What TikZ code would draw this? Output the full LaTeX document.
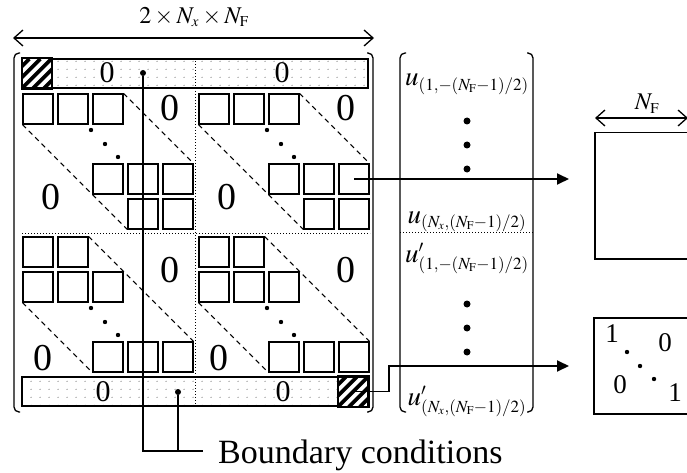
\documentclass[tikz,border=0pt]{standalone}
\usepackage{mathptmx}
\usepackage{fontspec}
\setmainfont{Liberation Serif}
\usetikzlibrary{arrows.meta, patterns.meta, positioning, calc}
\DeclareMathSizes{27}{27}{17}{12}
\DeclareMathSizes{24}{24}{15}{11}

\tikzdeclarepattern{
  name=bcdots,
  type=uncolored,
  bounding box={(0pt,0pt) and (9pt,8pt)},
  tile size={(9pt,8pt)},
  code={\fill (4.5pt,4pt) circle (0.65pt);}
}

\begin{document}
\begin{tikzpicture}[x=1pt, y=-1pt,
    cell/.style={draw, line width=1.6pt, minimum size=29.5pt, inner sep=0pt},
    bar/.style={draw, line width=1.5pt, minimum width=346pt, minimum height=29pt, inner sep=0pt, pattern=bcdots, pattern color=black!60},
    hatch/.style={draw, fill=white, line width=1.5pt, minimum size=29.5pt, inner sep=0pt},
    zbig/.style={font=\fontsize{38}{38}\selectfont, inner sep=0pt},
    zbar/.style={font=\fontsize{30}{30}\selectfont, inner sep=0pt},
    zid/.style={font=\fontsize{27}{27}\selectfont, inner sep=0pt},
    vlab/.style={font=\fontsize{27}{27}\selectfont, inner sep=0pt, anchor=base},
    dimlabel/.style={font=\fontsize{24}{24}\selectfont, inner sep=0pt},
    pnt/.style={circle, fill, inner sep=0pt, minimum size=6pt},
    conn/.style={line width=1.8pt, -{Triangle[length=12pt, width=11pt]}},
    dsh/.style={line width=1.1pt, dash pattern=on 5pt off 4pt},
    brk/.style={line width=1.3pt, rounded corners=5pt},
    dimarrow/.style={line width=1.3pt, {Straight Barb[length=9pt, width=16pt]}-{Straight Barb[length=9pt, width=16pt]}},
    box/.style={draw, line width=1.5pt, minimum width=130pt, inner sep=0pt, anchor=north west}]
  \clip (0,0) rectangle (687,473);

  \coordinate (dimL) at (13,38);
  \coordinate (dimR) at (374,38);
  \draw[dimarrow] (dimL) -- (dimR);
  \node[dimlabel] (dimtxt) at (194,17) {$2\times N_x\times N_\mathrm{F}$};

  \draw[brk] (20,53) -- (14,53) -- (14,412) -- (20,412);
  \draw[brk] (367,53) -- (373,53) -- (373,412) -- (367,412);

  \node[bar] (topbar) at (195,73.5) {};
  \node[bar] (botbar) at (195,391.5) {};
  \node[hatch, anchor=west] (hatA) at (topbar.west) {};
  \node[hatch, anchor=east] (hatB) at (botbar.east) {};
  \foreach \h in {hatA, hatB} {
    \begin{scope}
      \clip (\h.south west) rectangle (\h.north east);
      \foreach \s in {-44,-33,...,44}
        \draw[line width=3.8pt] ($(\h.south west)+(\s,0)$) -- ++(30,-30);
    \end{scope}
    \draw[line width=1.5pt] (\h.south west) rectangle (\h.north east);
  }
  \node[zbar] (za) at (107,73) {0};
  \node[zbar] (zb) at (282,73) {0};
  \node[zbar] (zc) at (103,392) {0};
  \node[zbar] (zd) at (283,392) {0};

  \foreach \ox/\bn in {38/a, 214/b} {
    \foreach \i/\j [count=\k] in {0/0,1/0,2/0,2/2,3/2,4/2,3/3,4/3}
      \node[cell] (\bn\k) at (\ox+35*\i, 109+35*\j) {};
    \draw[dsh] (\bn3.north east) -- (\bn6.north east);
    \draw[dsh] (\bn1.south west) -- (\bn7.south west);
    \foreach \dx/\dy in {53/21, 67/35, 80/48}
      \fill (\ox+\dx, 109+\dy) circle (2.2pt);
    \node[zbig] (\bn z1) at (\ox+132, 108) {0};
    \node[zbig] (\bn z2) at (\ox+13, 197) {0};
  }
  \foreach \ox/\bn in {38/c, 214/d} {
    \foreach \i/\j [count=\k] in {0/-1,1/-1,0/0,1/0,2/0,2/2,3/2,4/2}
      \node[cell] (\bn\k) at (\ox+35*\i, 287+35*\j) {};
    \draw[dsh] (\bn2.north east) -- (\bn8.north east);
    \draw[dsh] (\bn3.south west) -- (\bn6.south west);
    \foreach \dx/\dy in {53/21, 67/35, 80/48}
      \fill (\ox+\dx, 287+\dy) circle (2.2pt);
    \node[zbig] (\bn z1) at (\ox+132, 270) {0};
    \node[zbig] (\bn z2) at (\ox+5, 358) {0};
  }

  \draw[dotted, line width=1pt] (topbar.north) -- (botbar.south);
  \draw[dotted, line width=1pt] (22,233) -- (370,233);

  \node[pnt] (dotA) at (143,73) {};
  \node[pnt] (dotB) at (178,392) {};
  \coordinate (bcend) at (203,451);
  \draw[line width=1.8pt] (dotA) |- (bcend);
  \draw[line width=1.8pt] (dotB) -- (dotB |- bcend);
  \node[anchor=base west, font=\fontsize{34}{34}\selectfont, inner sep=0pt] (bc) at (218,463) {Boundary conditions};

  \draw[brk] (406,53) -- (400,53) -- (400,412) -- (406,412);
  \draw[brk] (527,53) -- (533,53) -- (533,412) -- (527,412);
  \node[vlab] (u1) at (467,86) {$u_{(1,-(N_\mathrm{F}-1)/2)}$};
  \node[vlab] (u2) at (467,223) {$u_{(N_x,(N_\mathrm{F}-1)/2)}$};
  \draw[dotted, line width=1pt] (400,232) -- (533,232);
  \node[vlab] (u3) at (467,262) {$u'_{(1,-(N_\mathrm{F}-1)/2)}$};
  \node[vlab] (u4) at (467,405) {$u'_{(N_x,(N_\mathrm{F}-1)/2)}$};
  \foreach \y in {121,145,169,304,328,352}
    \fill (467,\y) circle (3.5pt);

  \node[box, minimum height=126pt] (fbox) at (594,132) {};
  \coordinate (nfL) at (595,118);
  \coordinate (nfR) at (688,118);
  \draw[dimarrow] (nfL) -- (nfR);
  \node[dimlabel] (nftxt) at (647,104) {$N_\mathrm{F}$};

  \node[box, minimum height=96pt] (idbox) at (593,317) {};
  \node[zid] (i1) at (612,334) {1};
  \node[zid] (i2) at (665,343) {0};
  \node[zid] (i3) at (620,385) {0};
  \node[zid] (i4) at (675,393) {1};
  \foreach \x/\y in {627/352, 640/366, 654/379}
    \fill (\x,\y) circle (2.2pt);

  \coordinate (tipA) at (569,181);
  \coordinate (tipB) at (569,366);
  \coordinate (bendB) at (389,366);
  \draw[conn] (b6.center) -- (b6.center -| tipA);
  \draw[conn] (hatB.center) -| (bendB) -- (tipB);
\end{tikzpicture}
\end{document}
